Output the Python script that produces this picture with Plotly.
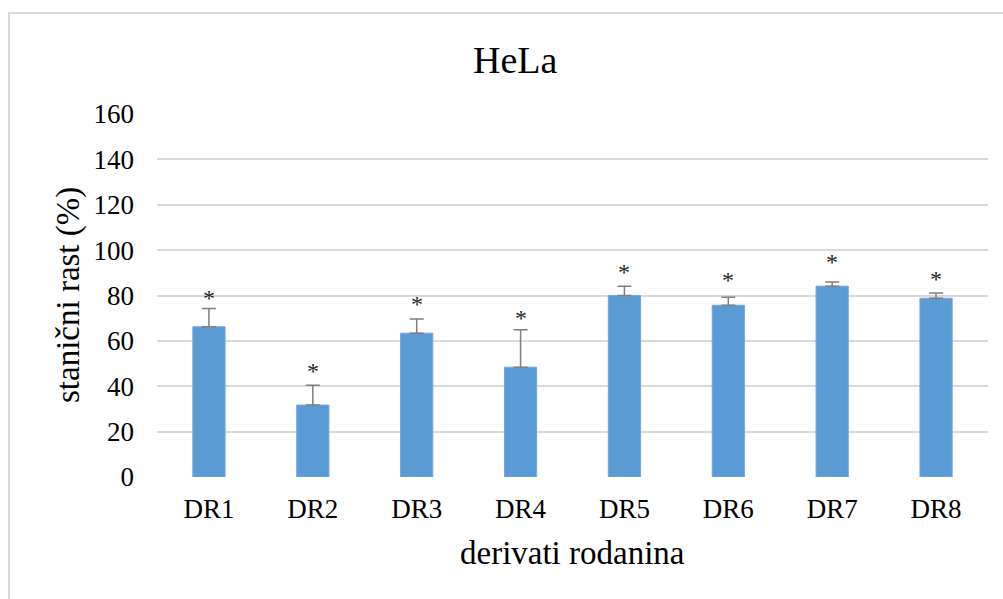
import plotly.graph_objects as go

categories = ["DR1", "DR2", "DR3", "DR4", "DR5", "DR6", "DR7", "DR8"]
values = [66.2, 31.7, 63.4, 48.4, 80.0, 75.7, 84.1, 78.8]
errors = [8.1, 8.7, 6.2, 16.5, 4.1, 3.5, 1.8, 2.3]
star_y = [80.4, 48.1, 77.4, 71.5, 91.9, 88.1, 95.9, 88.5]
y_ticks = [0, 20, 40, 60, 80, 100, 120, 140, 160]

FONT = "Liberation Serif, Times New Roman, serif"

fig = go.Figure()
fig.add_trace(go.Bar(
    x=categories, y=values, width=0.31,
    marker=dict(color="#5b9bd5", line=dict(color="#6fa8dc", width=1)),
    error_y=dict(type="data", array=errors, arrayminus=[0]*len(errors),
                 symmetric=False, color="#7f7f7f", thickness=1.5, width=7),
    showlegend=False,
))

for c, s in zip(categories, star_y):
    fig.add_annotation(x=c, y=s, xref="x", yref="y", text="*", showarrow=False,
                       font=dict(family=FONT, size=24, color="#262626"),
                       yanchor="middle", yshift=-3)

fig.add_annotation(text="HeLa", xref="paper", yref="paper", x=(515-157)/831, y=(477-60)/363,
                   xanchor="center", yanchor="middle", showarrow=False,
                   font=dict(family=FONT, size=38, color="#000000"))
fig.add_annotation(text="stanični rast (%)", xref="paper", yref="paper", x=(68-157)/831, y=(477-295)/363,
                   xanchor="center", yanchor="middle", textangle=-90, showarrow=False,
                   font=dict(family=FONT, size=33, color="#000000"))
fig.add_annotation(text="derivati rodanina", xref="paper", yref="paper", x=0.5, y=(477-553)/363,
                   xanchor="center", yanchor="middle", showarrow=False,
                   font=dict(family=FONT, size=33, color="#000000"))

fig.add_shape(type="rect", xref="paper", yref="paper",
              x0=(9-157)/831, x1=1.2, y0=-0.6, y1=(477-13)/363,
              line=dict(color="#d9d9d9", width=2), fillcolor="rgba(0,0,0,0)", layer="below")

fig.update_layout(
    width=1003, height=599,
    margin=dict(l=157, r=15, t=114, b=122),
    paper_bgcolor="white", plot_bgcolor="white",
    font=dict(family=FONT, size=27, color="#000000"),
    xaxis=dict(showgrid=False, showline=False, zeroline=False, ticks="",
               ticklabelstandoff=13, tickfont=dict(size=27)),
    yaxis=dict(range=[0, 160], tickvals=y_ticks, showgrid=True, gridcolor="#d9d9d9",
               gridwidth=1.5, zeroline=False, showline=False, ticks="",
               ticklabelstandoff=22, tickfont=dict(size=27)),
)

fig.write_html("out.html", config={"displayModeBar": False},
               post_script="document.body.style.margin='0';document.body.style.overflow='hidden';")
